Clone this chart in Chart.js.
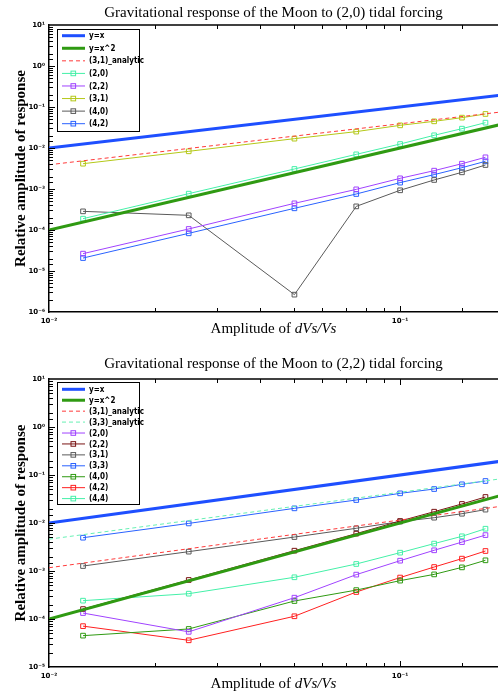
<!DOCTYPE html>
<html>
<head>
<meta charset="utf-8">
<script src="https://cdn.jsdelivr.net/npm/chart.js@4.4.1/dist/chart.umd.min.js"></script>
<style>
html, body { margin: 0; padding: 0; background: #fff; overflow: hidden; width: 498px; height: 691px; }
#c1 { position: absolute; left: 0; top: 0; }
#c2 { position: absolute; left: 0; top: 352px; }
</style>
</head>
<body>
<canvas id="c1" width="503" height="340"></canvas>
<canvas id="c2" width="503" height="339"></canvas>
<script>
// amplitudes of dVs/Vs used in the runs
var amp = [0.0125, 0.025, 0.05, 0.075, 0.1, 0.125, 0.15, 0.175];
// end points of the straight reference lines
var refX = [0.01, 0.2];
var lineX = [0.01, 0.2];
var lineX2 = [1e-4, 0.04];

// (2,0) tidal forcing
var t20_analytic31 = [0.0039, 0.078];
var t20_m20 = [1.89e-4, 7.7e-4, 3.08e-3, 7.0e-3, 0.0125, 0.0204, 0.0296, 0.0415];
var t20_m22 = [2.65e-5, 1.06e-4, 4.47e-4, 9.8e-4, 1.82e-3, 2.8e-3, 4.14e-3, 5.93e-3];
var t20_m31 = [4.14e-3, 8.3e-3, 0.0169, 0.0251, 0.0357, 0.0447, 0.055, 0.0676];
var t20_m40 = [2.85e-4, 2.28e-4, 2.65e-6, 3.77e-4, 9.3e-4, 1.66e-3, 2.55e-3, 3.85e-3];
var t20_m42 = [2.07e-5, 8.3e-5, 3.38e-4, 7.55e-4, 1.43e-3, 2.24e-3, 3.31e-3, 4.73e-3];

// (2,2) tidal forcing
var t22_analytic31 = [0.00117, 0.023];
var t22_analytic33 = [0.0046, 0.086];
var t22_m20 = [1.33e-4, 5.4e-5, 2.78e-4, 8.4e-4, 1.64e-3, 2.7e-3, 4.0e-3, 5.6e-3];
var t22_m22 = [1.61e-4, 6.5e-4, 2.65e-3, 6.0e-3, 0.011, 0.0172, 0.0249, 0.0348];
var t22_m31 = [1.27e-3, 2.53e-3, 5.1e-3, 7.76e-3, 0.0107, 0.0129, 0.0156, 0.019];
var t22_m33 = [4.94e-3, 9.8e-3, 0.0202, 0.0301, 0.0415, 0.051, 0.064, 0.075];
var t22_m40 = [4.5e-5, 6.2e-5, 2.37e-4, 4.0e-4, 6.3e-4, 8.5e-4, 1.19e-3, 1.67e-3];
var t22_m42 = [7.1e-5, 3.6e-5, 1.14e-4, 3.65e-4, 7.3e-4, 1.21e-3, 1.81e-3, 2.61e-3];
var t22_m44 = [2.41e-4, 3.37e-4, 7.4e-4, 1.4e-3, 2.41e-3, 3.72e-3, 5.28e-3, 7.6e-3];

var SUP = {'-': '\u207B', '0': '\u2070', '1': '\u00B9', '2': '\u00B2', '3': '\u00B3',
           '4': '\u2074', '5': '\u2075', '6': '\u2076', '7': '\u2077', '8': '\u2078', '9': '\u2079'};

function isDecade(v){
    var l = Math.log10(v);
    return Math.abs(l - Math.round(l)) < 1e-9;
}
function powLabel(v){
    if(!isDecade(v)) return '';
    var e = String(Math.round(Math.log10(v)));
    var s = '';
    for(var ch of e) s += SUP[ch];
    return '10' + s;
}
function pts(xs, ys){
    var out = [];
    for(var i = 0; i < xs.length; i++) out.push({x: xs[i], y: ys[i]});
    return out;
}
function refLine(label, ys, color, width, dash){
    return {label: label, data: pts(refX, ys), borderColor: color, backgroundColor: color,
            borderWidth: width, borderDash: dash || [], pointRadius: 0, fill: false, tension: 0};
}
function modeLine(label, ys, color){
    return {label: label, data: pts(amp, ys), borderColor: color, backgroundColor: 'rgba(0,0,0,0)',
            borderWidth: 1, pointStyle: 'rect', pointRadius: 3.3, pointBorderWidth: 1,
            pointBorderColor: color, pointBackgroundColor: 'rgba(0,0,0,0)', fill: false, tension: 0};
}

// inside ticks, top border, mixed-font x title and the boxed legend
var frame = {
    id: 'frame',
    afterDatasetsDraw: function(chart){
        var ctx = chart.ctx, a = chart.chartArea;
        var xs = chart.scales.x, ys = chart.scales.y;
        var o = chart.options.plugins.frame;
        ctx.save();
        ctx.strokeStyle = '#000';
        ctx.lineWidth = 1;
        ctx.beginPath();
        xs.ticks.forEach(function(t){
            var px = Math.round(xs.getPixelForValue(t.value)) + 0.5;
            if(px < a.left + 1 || px > a.right - 1) return;
            var len = isDecade(t.value) ? 6 : 4;
            ctx.moveTo(px, a.bottom); ctx.lineTo(px, a.bottom - len);
            ctx.moveTo(px, a.top); ctx.lineTo(px, a.top + len);
        });
        ys.ticks.forEach(function(t){
            var py = Math.round(ys.getPixelForValue(t.value)) + 0.5;
            if(py < a.top + 1 || py > a.bottom - 1) return;
            var len = isDecade(t.value) ? 6 : 4;
            ctx.moveTo(a.left, py); ctx.lineTo(a.left + len, py);
        });
        ctx.stroke();
        ctx.lineWidth = 1.5;
        ctx.beginPath();
        ctx.moveTo(a.left, a.top); ctx.lineTo(a.right, a.top);
        ctx.stroke();

        // x axis title: "Amplitude of " + italic "dVs/Vs"
        var f1 = '15px "Liberation Serif"', f2 = 'italic 15px "Liberation Serif"';
        var t1 = 'Amplitude of ', t2 = 'dVs/Vs';
        ctx.font = f1; var w1 = ctx.measureText(t1).width;
        ctx.font = f2; var w2 = ctx.measureText(t2).width;
        var x0 = (a.left + a.right) / 2 - (w1 + w2) / 2;
        var by = a.bottom + o.xTitleOffset;
        ctx.fillStyle = '#000';
        ctx.textBaseline = 'alphabetic';
        ctx.textAlign = 'left';
        ctx.font = f1; ctx.fillText(t1, x0, by);
        ctx.font = f2; ctx.fillText(t2, x0 + w1, by);

        // legend box
        var L = o.legend;
        ctx.fillStyle = '#fff';
        ctx.fillRect(L.x, L.y, L.w, L.h);
        ctx.lineWidth = 1;
        ctx.strokeStyle = '#000';
        ctx.strokeRect(L.x + 0.5, L.y + 0.5, L.w, L.h);
        ctx.font = 'bold 8px "Liberation Sans Narrow", "DejaVu Sans Condensed", sans-serif';
        ctx.textBaseline = 'middle';
        chart.data.datasets.forEach(function(ds, i){
            var ry = L.y + L.first + i * L.step;
            ctx.strokeStyle = ds.borderColor;
            ctx.lineWidth = ds.borderWidth;
            ctx.setLineDash(ds.borderDash || []);
            ctx.beginPath();
            ctx.moveTo(L.x + 5, ry); ctx.lineTo(L.x + 28, ry);
            ctx.stroke();
            ctx.setLineDash([]);
            if(ds.pointRadius > 0){
                ctx.lineWidth = 1;
                ctx.strokeRect(L.x + 14, ry - 2.3, 4.6, 4.6);
            }
            ctx.fillStyle = '#000';
            ctx.fillText(ds.label, L.x + 32, ry + 0.5);
        });
        ctx.restore();
    }
};

function makeChart(id, title, datasets, yMin, titlePad, legend, xH){
    return new Chart(document.getElementById(id).getContext('2d'), {
        type: 'line',
        data: {datasets: datasets},
        plugins: [frame],
        options: {
            responsive: false,
            animation: false,
            layout: {padding: 0, autoPadding: false},
            plugins: {
                legend: {display: false},
                tooltip: {enabled: false},
                title: {
                    display: true, text: title, fullSize: false, color: '#000',
                    font: {family: '"Liberation Serif"', size: 15, weight: 'normal'},
                    padding: titlePad
                },
                frame: {legend: legend, xTitleOffset: 21}
            },
            scales: {
                x: {
                    type: 'logarithmic', min: 0.01, max: 0.19,
                    grid: {display: false, drawOnChartArea: false, drawTicks: false},
                    border: {display: true, color: '#000', width: 1.5},
                    ticks: {autoSkip: false, maxRotation: 0, padding: 5, color: '#000',
                            font: {family: '"DejaVu Sans"', size: 7, weight: 'bold'},
                            callback: function(v){ return powLabel(v); }},
                    afterFit: function(s){ s.height = xH; }
                },
                y: {
                    type: 'logarithmic', min: yMin, max: 10,
                    grid: {display: false, drawOnChartArea: false, drawTicks: false},
                    border: {display: true, color: '#000', width: 1.5},
                    ticks: {autoSkip: false, padding: 4, color: '#000',
                            font: {family: '"DejaVu Sans"', size: 7, weight: 'bold'},
                            callback: function(v){ return powLabel(v); }},
                    title: {display: true, text: 'Relative amplitude of response', color: '#000',
                            font: {family: '"Liberation Serif"', size: 15, weight: 'bold'},
                            padding: {top: 12, bottom: 0}},
                    afterFit: function(s){ s.width = 49; }
                }
            }
        }
    });
}

var BLUE = '#1e4fff', GREEN = '#2f9a12';

makeChart('c1', 'Gravitational response of the Moon to (2,0) tidal forcing', [
    refLine('y=x', lineX, BLUE, 3),
    refLine('y=x^2', lineX2, GREEN, 3),
    refLine('(3,1)_analytic', t20_analytic31, '#ff3a3a', 1, [4, 3]),
    modeLine('(2,0)', t20_m20, '#44f0a8'),
    modeLine('(2,2)', t20_m22, '#a043ff'),
    modeLine('(3,1)', t20_m31, '#b4c818'),
    modeLine('(4,0)', t20_m40, '#5a5a5a'),
    modeLine('(4,2)', t20_m42, '#2a62ff')
], 1e-6, {top: 4, bottom: 3}, {x: 57, y: 29, w: 82, h: 102, first: 6.7, step: 12.57}, 28);

makeChart('c2', 'Gravitational response of the Moon to (2,2) tidal forcing', [
    refLine('y=x', lineX, BLUE, 3),
    refLine('y=x^2', lineX2, GREEN, 3),
    refLine('(3,1)_analytic', t22_analytic31, '#ff3a3a', 1, [4, 3]),
    refLine('(3,3)_analytic', t22_analytic33, '#66f0b4', 1, [4, 3]),
    modeLine('(2,0)', t22_m20, '#a043ff'),
    modeLine('(2,2)', t22_m22, '#7a1414'),
    modeLine('(3,1)', t22_m31, '#5a5a5a'),
    modeLine('(3,3)', t22_m33, '#2a62ff'),
    modeLine('(4,0)', t22_m40, '#2f9a12'),
    modeLine('(4,2)', t22_m42, '#ff2020'),
    modeLine('(4,4)', t22_m44, '#44f0a8')
], 1e-5, {top: 3, bottom: 6}, {x: 57, y: 30, w: 82, h: 122, first: 7.3, step: 10.93}, 24);
</script>
</body>
</html>
